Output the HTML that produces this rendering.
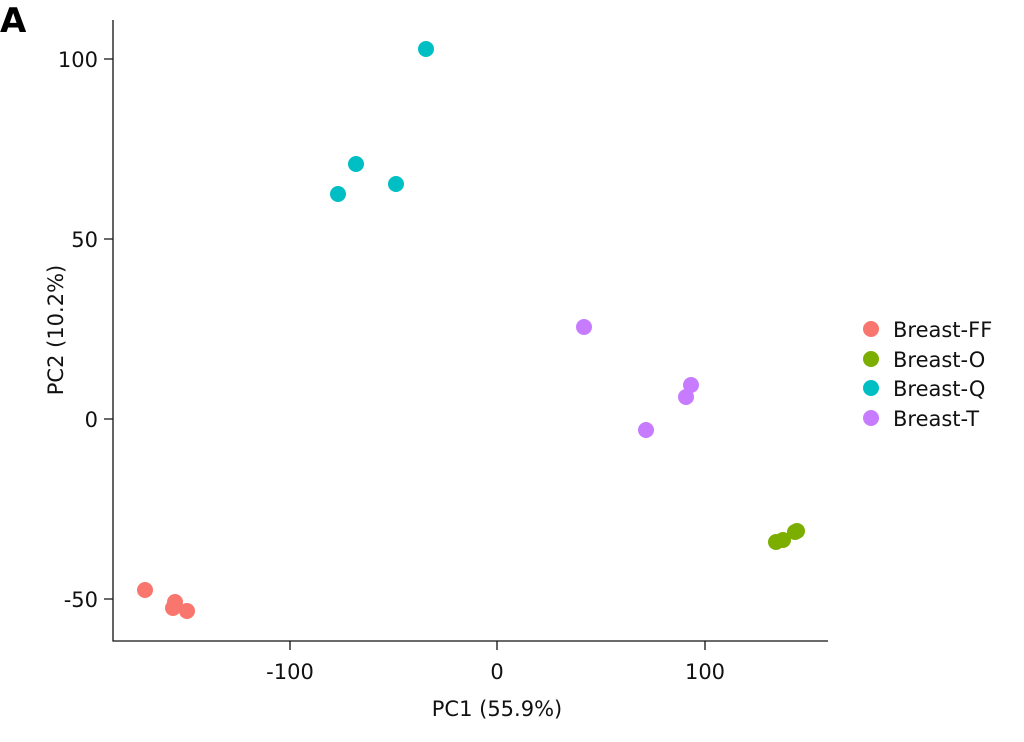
<!DOCTYPE html><html><head><style>body{margin:0;background:#fff}</style></head><body>
<svg width="1024" height="737" xmlns="http://www.w3.org/2000/svg" style="font-family:'DejaVu Sans','Liberation Sans',sans-serif">
<text x="0" y="32" font-size="34" font-weight="bold" fill="#000">A</text>
<g stroke="#111" stroke-width="1.3" fill="none">
<path d="M113 20V641H828"/>
<path d="M104 59H113M104 239H113M104 419H113M104 599H113"/>
<path d="M290 641V650M497 641V650M705 641V650"/>
</g>
<g font-size="21" fill="#111" text-anchor="end">
<text x="98" y="67">100</text><text x="98" y="247">50</text><text x="98" y="427">0</text><text x="98" y="607">-50</text>
</g>
<g font-size="21" fill="#111" text-anchor="middle">
<text x="290" y="679">-100</text><text x="497" y="679">0</text><text x="705" y="679">100</text>
<text x="497" y="716">PC1 (55.9%)</text>
</g>
<text transform="translate(63,330) rotate(-90)" font-size="21" fill="#111" text-anchor="middle">PC2 (10.2%)</text>
<g fill="#F8766D"><circle cx="145" cy="590" r="8"/><circle cx="175" cy="602" r="8"/><circle cx="173" cy="608" r="8"/><circle cx="187" cy="611" r="8"/></g>
<g fill="#7CAE00"><circle cx="776" cy="542" r="8"/><circle cx="783" cy="540" r="8"/><circle cx="795" cy="532" r="8"/><circle cx="797" cy="531" r="8"/></g>
<g fill="#00BFC4"><circle cx="426" cy="49" r="8"/><circle cx="356" cy="164" r="8"/><circle cx="396" cy="184" r="8"/><circle cx="338" cy="194" r="8"/></g>
<g fill="#C77CFF"><circle cx="584" cy="327" r="8"/><circle cx="691" cy="385" r="8"/><circle cx="686" cy="397" r="8"/><circle cx="646" cy="430" r="8"/></g>
<g font-size="21" fill="#111">
<circle cx="871" cy="329" r="8" fill="#F8766D"/><text x="893" y="337">Breast-FF</text>
<circle cx="871" cy="359" r="8" fill="#7CAE00"/><text x="893" y="367">Breast-O</text>
<circle cx="871" cy="388" r="8" fill="#00BFC4"/><text x="893" y="396">Breast-Q</text>
<circle cx="871" cy="418" r="8" fill="#C77CFF"/><text x="893" y="426">Breast-T</text>
</g>
</svg></body></html>
